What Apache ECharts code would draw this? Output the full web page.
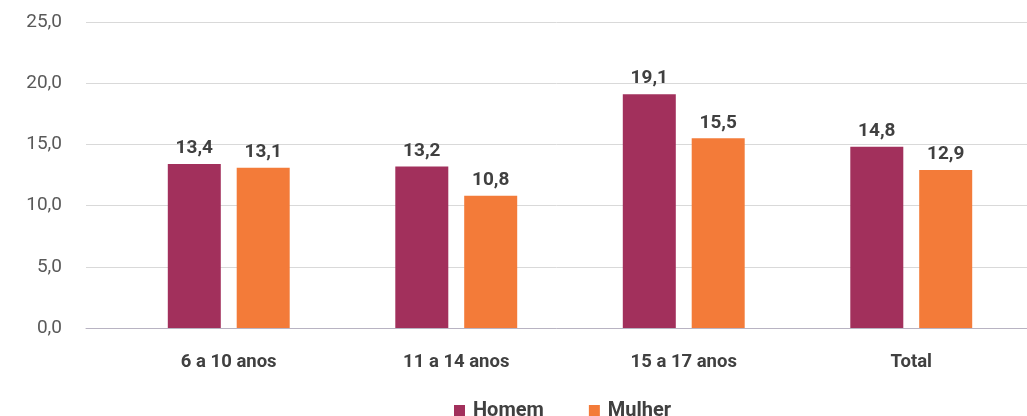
<!DOCTYPE html>
<html>
<head>
<meta charset="utf-8">
<script src="https://cdn.jsdelivr.net/npm/echarts@6/dist/echarts.min.js"></script>
<style>
  html, body { margin: 0; padding: 0; background: #fff; }
  #chart { width: 1027px; height: 416px; }
</style>
</head>
<body>
<div id="chart"></div>
<script>
  // dados do gráfico
  const categories = ['6 a 10 anos', '11 a 14 anos', '15 a 17 anos', 'Total']
  const homem = [13.4, 13.2, 19.1, 14.8]
  const mulher = [13.1, 10.8, 15.5, 12.9]
  const yTicks = [0, 5, 10, 15, 20, 25]

  const fmt = v => v.toFixed(1).replace('.', ',')

  const chart = echarts.init(document.getElementById('chart'))
  chart.setOption({
    animation: false,
    textStyle: { fontFamily: 'Roboto' },
    legend: {
      data: ['Homem', 'Mulher'],
      left: 449,
      top: 396,
      itemWidth: 11,
      itemHeight: 12,
      itemGap: 45,
      icon: 'rect',
      textStyle: { fontSize: 20, fontWeight: 'bold', color: '#404040', padding: [0, 0, 0, 3] }
    },
    grid: [
      { left: 86, right: 0, top: 22, bottom: 88 },
      { left: 115, right: 2, top: 22, bottom: 88 }
    ],
    xAxis: [
      {
        gridIndex: 0, type: 'value', min: 0, max: 1,
        axisLine: { show: true, onZero: false, lineStyle: { color: '#b8b3c2', width: 1 } },
        axisTick: { show: false }, axisLabel: { show: false }, splitLine: { show: false }
      },
      {
        gridIndex: 1, type: 'category', data: categories,
        axisLine: { show: false }, axisTick: { show: false },
        axisLabel: { margin: 25, fontSize: 18.5, fontWeight: 'bold', color: '#404040' }
      }
    ],
    yAxis: [
      {
        gridIndex: 0, type: 'value', min: yTicks[0], max: yTicks[yTicks.length - 1], interval: 5,
        axisLine: { show: false }, axisTick: { show: false },
        axisLabel: { margin: 24, fontSize: 19, color: '#595959', formatter: v => fmt(v) },
        splitLine: { lineStyle: { color: '#d9d9d9', width: 1 } }
      },
      {
        gridIndex: 1, type: 'value', min: yTicks[0], max: yTicks[yTicks.length - 1], interval: 5,
        show: false, splitLine: { show: false }
      }
    ],
    series: [
      {
        name: 'Homem', type: 'bar', xAxisIndex: 1, yAxisIndex: 1,
        data: homem, barWidth: 53, barGap: '30%',
        itemStyle: { color: '#a2305c' },
        label: {
          show: true, position: 'top', distance: 6,
          fontSize: 19, fontWeight: 'bold', color: '#404040',
          formatter: p => fmt(p.value)
        }
      },
      {
        name: 'Mulher', type: 'bar', xAxisIndex: 1, yAxisIndex: 1,
        data: mulher, barWidth: 53,
        itemStyle: { color: '#f37b39' },
        label: {
          show: true, position: 'top', distance: 6,
          fontSize: 19, fontWeight: 'bold', color: '#404040',
          formatter: p => fmt(p.value)
        }
      }
    ]
  })
</script>
</body>
</html>
